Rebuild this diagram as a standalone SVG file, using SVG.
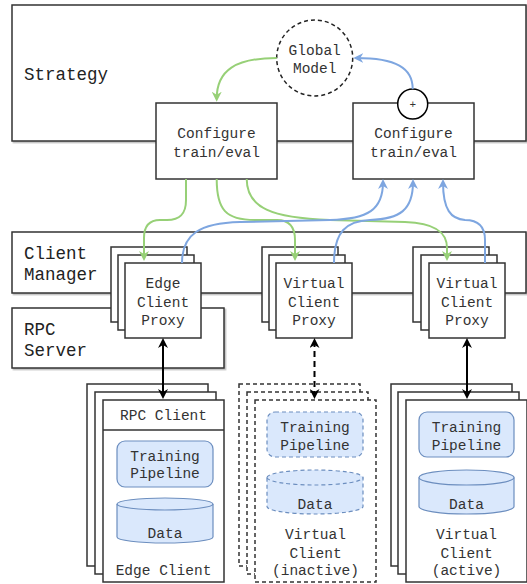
<svg xmlns="http://www.w3.org/2000/svg" width="527" height="584" viewBox="0 0 527 584">
<defs>
<style>
.box{fill:#fff;stroke:#333;stroke-width:1.5}
.big{fill:#fff;stroke:#333;stroke-width:1.5;filter:url(#sh)}
.dash{fill:#fff;stroke:#333;stroke-width:1.5;stroke-dasharray:4 3}
.blue{fill:#dae8fc;stroke:#6c8ebf;stroke-width:1.2}
.bluedash{fill:#dae8fc;stroke:#6c8ebf;stroke-width:1.2;stroke-dasharray:4 3}
text{font-family:"Liberation Mono","DejaVu Sans Mono",monospace;fill:#333;font-size:14.5px}
.c{text-anchor:middle}
.lbl{font-size:17.5px;fill:#222}
.g{fill:none;stroke:#97D077;stroke-width:2}
.b{fill:none;stroke:#7EA6E0;stroke-width:2}
.k{fill:none;stroke:#000;stroke-width:2}
</style>
<filter id="sh" x="-5%" y="-5%" width="110%" height="120%">
<feDropShadow dx="1.5" dy="1.5" stdDeviation="0.7" flood-color="#000" flood-opacity="0.25"/>
</filter>
<marker id="ag" viewBox="0 0 10 10" refX="7" refY="5" markerWidth="10" markerHeight="10" markerUnits="userSpaceOnUse" orient="auto-start-reverse"><path d="M0,0 L10,5 L0,10 L3,5 z" fill="#97D077"/></marker>
<marker id="ab" viewBox="0 0 10 10" refX="7" refY="5" markerWidth="10" markerHeight="10" markerUnits="userSpaceOnUse" orient="auto-start-reverse"><path d="M0,0 L10,5 L0,10 L3,5 z" fill="#7EA6E0"/></marker>
<marker id="ak" viewBox="0 0 10 10" refX="7" refY="5" markerWidth="10" markerHeight="10" markerUnits="userSpaceOnUse" orient="auto-start-reverse"><path d="M0,0 L10,5 L0,10 L3,5 z" fill="#000"/></marker>
</defs>

<g id="strategy">
<rect class="big" x="12" y="5" width="514" height="136"/>
<text class="lbl" x="24" y="80">Strategy</text>
</g>

<g id="client-manager">
<rect class="big" x="12" y="232" width="514" height="61"/>
<text class="lbl" x="24" y="259">Client</text>
<text class="lbl" x="24" y="280">Manager</text>
</g>

<g id="rpc-server">
<rect class="big" x="12" y="308" width="212" height="60"/>
<text class="lbl" x="24" y="335">RPC</text>
<text class="lbl" x="24" y="356">Server</text>
</g>

<g id="configure-1">
<rect class="box" x="156" y="103" width="121" height="76"/>
<text class="c" x="216.5" y="138">Configure</text>
<text class="c" x="216.5" y="157">train/eval</text>
</g>

<g id="configure-2">
<rect class="box" x="353" y="103" width="121" height="76"/>
<text class="c" x="413.5" y="138">Configure</text>
<text class="c" x="413.5" y="157">train/eval</text>
</g>

<g id="global-model">
<circle cx="314.7" cy="58" r="38" fill="#fff" stroke="#222" stroke-width="1.5" stroke-dasharray="4 3"/>
<text class="c" x="314.7" y="55">Global</text>
<text class="c" x="314.7" y="73">Model</text>
</g>

<g id="aggregate">
<circle cx="412.7" cy="104" r="15" fill="#fff" stroke="#000" stroke-width="1.5"/>
<text class="c" x="412.7" y="108" style="font-size:11px">+</text>
</g>

<g id="edge-client-proxy">
<rect class="box" x="111" y="247" width="76" height="75"/>
<rect class="box" x="118" y="255" width="76" height="75"/>
<rect class="box" x="125" y="263" width="76" height="75"/>
<text class="c" x="163" y="288">Edge</text>
<text class="c" x="163" y="307">Client</text>
<text class="c" x="163" y="325">Proxy</text>
</g>

<g id="virtual-client-proxy-1">
<rect class="box" x="262" y="247" width="76" height="75"/>
<rect class="box" x="269" y="255" width="76" height="75"/>
<rect class="box" x="276" y="263" width="76" height="75"/>
<text class="c" x="314" y="288">Virtual</text>
<text class="c" x="314" y="307">Client</text>
<text class="c" x="314" y="325">Proxy</text>
</g>

<g id="virtual-client-proxy-2">
<rect class="box" x="413" y="247" width="76" height="75"/>
<rect class="box" x="421" y="255" width="76" height="75"/>
<rect class="box" x="429" y="263" width="76" height="75"/>
<text class="c" x="467" y="288">Virtual</text>
<text class="c" x="467" y="307">Client</text>
<text class="c" x="467" y="325">Proxy</text>
</g>

<g id="edge-client">
<rect class="box" x="87" y="384" width="121" height="182"/>
<rect class="box" x="95" y="392" width="121" height="182"/>
<rect class="box" x="103" y="400" width="121" height="182"/>
<line x1="103" y1="430" x2="224" y2="430" stroke="#333" stroke-width="1.5"/>
<text class="c" x="163.5" y="420">RPC Client</text>
<rect class="blue" x="117" y="441" width="96" height="46" rx="8"/>
<text class="c" x="165" y="461">Training</text>
<text class="c" x="165" y="478">Pipeline</text>
<path class="blue" d="M117,504 A48,6 0 0 1 213,504 L213,537 A48,6 0 0 1 117,537 Z"/>
<path d="M117,504 A48,6 0 0 0 213,504" fill="none" stroke="#6c8ebf" stroke-width="1.2"/>
<text class="c" x="165" y="538">Data</text>
<text class="c" x="163.5" y="575">Edge Client</text>
</g>

<g id="virtual-client-inactive">
<rect class="dash" x="239" y="384" width="121" height="182"/>
<rect class="dash" x="247" y="392" width="121" height="182"/>
<rect class="dash" x="255" y="400" width="121" height="182"/>
<rect class="bluedash" x="267" y="412" width="96" height="45" rx="8"/>
<text class="c" x="315" y="432">Training</text>
<text class="c" x="315" y="450">Pipeline</text>
<path class="bluedash" d="M267,477.5 A48,7.5 0 0 1 363,477.5 L363,506.5 A48,7.5 0 0 1 267,506.5 Z"/>
<path d="M267,477.5 A48,7.5 0 0 0 363,477.5" fill="none" stroke="#6c8ebf" stroke-width="1.2" stroke-dasharray="4 3"/>
<text class="c" x="315" y="509">Data</text>
<text class="c" x="315.5" y="539">Virtual</text>
<text class="c" x="315.5" y="558">Client</text>
<text class="c" x="315.5" y="575">(inactive)</text>
</g>

<g id="virtual-client-active">
<rect class="box" x="391" y="384" width="121" height="182"/>
<rect class="box" x="398" y="392" width="121" height="182"/>
<rect class="box" x="406" y="400" width="121" height="182"/>
<rect class="blue" x="419" y="412" width="95" height="45" rx="8"/>
<text class="c" x="466.5" y="432">Training</text>
<text class="c" x="466.5" y="450">Pipeline</text>
<path class="blue" d="M419,477.5 A47.5,7.5 0 0 1 514,477.5 L514,506.5 A47.5,7.5 0 0 1 419,506.5 Z"/>
<path d="M419,477.5 A47.5,7.5 0 0 0 514,477.5" fill="none" stroke="#6c8ebf" stroke-width="1.2"/>
<text class="c" x="466.5" y="509">Data</text>
<text class="c" x="466.5" y="539">Virtual</text>
<text class="c" x="466.5" y="558">Client</text>
<text class="c" x="466.5" y="575">(active)</text>
</g>

<g id="connectors">
<path class="g" d="M276.7,58 C236,58 216.7,70 216.7,98.7" marker-end="url(#ag)"/>
<path class="b" d="M412.7,89 C412.7,68 396,58 356.3,58" marker-end="url(#ab)"/>
<path class="g" d="M186,179 L186,200 C186,214 180,220 167,220 L160,220 C150,220 144,226 144,238 L144,258" marker-end="url(#ag)"/>
<path class="g" d="M216.7,179 C216.7,210 226,220 255,220 L277,220 C289,220 295,227 295,240 L295,258" marker-end="url(#ag)"/>
<path class="g" d="M246.7,179 C246.7,208 272,218 330,220 L405,222 C435,223 447,232 447,248 L447,258" marker-end="url(#ag)"/>
<path class="b" d="M182,263 C182,234 200,223 240,222 L330,220 C368,219 383,210 383,182" marker-end="url(#ab)"/>
<path class="b" d="M334,263 C334,232 346,221 370,220 C400,219 413,210 413,182" marker-end="url(#ab)"/>
<path class="b" d="M485,263 L485,240 C485,226 478,220 465,220 C451,219 443,210 443,182" marker-end="url(#ab)"/>
<path class="k" d="M163,341 L163,396" marker-start="url(#ak)" marker-end="url(#ak)"/>
<path class="k" d="M314.5,341 L314.5,396" stroke-dasharray="6 4" marker-start="url(#ak)" marker-end="url(#ak)"/>
<path class="k" d="M467,341 L467,396" marker-start="url(#ak)" marker-end="url(#ak)"/>
</g>
</svg>
